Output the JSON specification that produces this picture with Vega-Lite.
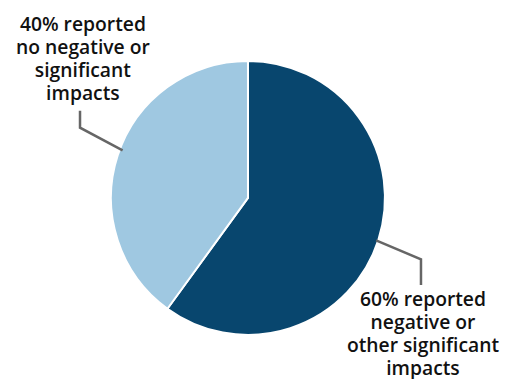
{
  "$schema": "https://vega.github.io/schema/vega-lite/v6.json",
  "width": 508,
  "height": 379,
  "autosize": {"type": "fit", "contains": "padding"},
  "padding": 0,
  "background": "white",
  "config": {"view": {"stroke": null}},
  "datasets": {
    "shares": [
      {"category": "Negative or other significant impacts", "percent": 60, "order": 1},
      {"category": "No negative or significant impacts", "percent": 40, "order": 2}
    ],
    "labels": [
      {"label": "40% reported\nno negative or\nsignificant\nimpacts", "lx": -1.205, "ly": 1.2336},
      {"label": "60% reported\nnegative or\nother significant\nimpacts", "lx": 1.2774, "ly": -0.799}
    ],
    "leaders": [
      {"id": "a", "step": 1, "px": -1.226, "py": 0.642},
      {"id": "a", "step": 2, "px": -1.226, "py": 0.518},
      {"id": "a", "step": 3, "px": -0.915, "py": 0.350},
      {"id": "b", "step": 1, "px": 0.935, "py": -0.314},
      {"id": "b", "step": 2, "px": 1.2628, "py": -0.4526},
      {"id": "b", "step": 3, "px": 1.2628, "py": -0.6423}
    ]
  },
  "layer": [
    {
      "data": {"name": "shares"},
      "mark": {"type": "arc", "outerRadius": 137, "stroke": "white", "strokeWidth": 2},
      "encoding": {
        "x": {"datum": 0, "type": "quantitative", "scale": {"domain": [-1.810, 1.898], "nice": false, "zero": false}, "axis": null},
        "y": {"datum": 0, "type": "quantitative", "scale": {"domain": [-1.3066, 1.4599], "nice": false, "zero": false}, "axis": null},
        "theta": {"field": "percent", "type": "quantitative", "stack": true},
        "order": {"field": "order", "type": "quantitative"},
        "color": {
          "field": "category", "type": "nominal", "legend": null,
          "scale": {"domain": ["Negative or other significant impacts", "No negative or significant impacts"], "range": ["#08466e", "#9fc8e1"]}
        }
      }
    },
    {
      "data": {"name": "leaders"},
      "mark": {"type": "line", "color": "#666666", "strokeWidth": 2.5, "strokeCap": "butt", "strokeJoin": "miter"},
      "encoding": {
        "x": {"field": "px", "type": "quantitative", "axis": null},
        "y": {"field": "py", "type": "quantitative", "axis": null},
        "detail": {"field": "id"},
        "order": {"field": "step", "type": "quantitative"}
      }
    },
    {
      "data": {"name": "labels"},
      "mark": {"type": "text", "font": "Open Sans", "fontWeight": 600, "fontSize": 19.3, "lineHeight": 23, "align": "center", "baseline": "alphabetic", "color": "#111111", "lineBreak": "\n"},
      "encoding": {
        "x": {"field": "lx", "type": "quantitative", "axis": null},
        "y": {"field": "ly", "type": "quantitative", "axis": null},
        "text": {"field": "label"}
      }
    }
  ]
}
